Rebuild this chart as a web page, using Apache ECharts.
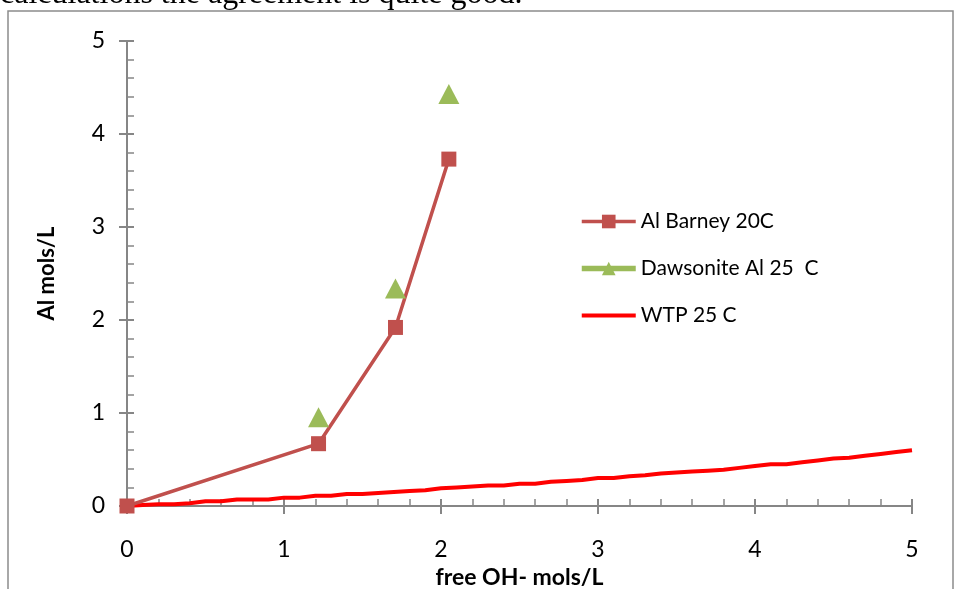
<!DOCTYPE html>
<html><head><meta charset="utf-8">
<script src="https://cdn.jsdelivr.net/npm/echarts@6/dist/echarts.min.js"></script>
<style>html,body{margin:0;padding:0;background:#fff}#c{width:956px;height:589px}</style>
</head><body><div id="c"></div>
<script>
const barneyX = [0, 1.22, 1.71, 2.05];
const barneyY = [0, 0.67, 1.92, 3.73];
const dawsX = [1.22, 1.71, 2.05];
const dawsY = [0.955, 2.34, 4.43];
const wtpX = [0,0.1,0.2,0.3,0.4,0.5,0.6,0.7,0.8,0.9,1.0,1.1,1.2,1.3,1.4,1.5,1.6,1.7,1.8,1.9,2.0,2.1,2.2,2.3,2.4,2.5,2.6,2.7,2.8,2.9,3.0,3.1,3.2,3.3,3.4,3.5,3.6,3.7,3.8,3.9,4.0,4.1,4.2,4.3,4.4,4.5,4.6,4.7,4.8,4.9,5.0];
const wtpY = [0,0.01,0.02,0.02,0.03,0.05,0.05,0.07,0.07,0.07,0.09,0.09,0.11,0.11,0.13,0.13,0.14,0.15,0.16,0.17,0.19,0.20,0.21,0.22,0.22,0.24,0.24,0.26,0.27,0.28,0.30,0.30,0.32,0.33,0.35,0.36,0.37,0.38,0.39,0.41,0.43,0.45,0.45,0.47,0.49,0.51,0.52,0.54,0.56,0.58,0.60];
const seriesNames = ['Al Barney 20C', 'Dawsonite Al 25  C', 'WTP 25 C'];
const xTitle = 'free OH- mols/L';
const yTitle = 'Al mols/L';
const topText = 'calculations the agreement is quite good.';

const zip = (xs, ys) => xs.map((x, i) => [x, ys[i]]);
const axisColor = '#868686';
const font = 'Lato';

const chart = echarts.init(document.getElementById('c'));
const baseAxis = {
  type: 'value', min: 0, max: 5, interval: 1,
  splitLine: {show: false}
};
chart.setOption({
  animation: false,
  grid: {left: 127, right: 44, top: 41, bottom: 83, outerBoundsMode: 'none', containLabel: false},
  graphic: [
    {type: 'rect', shape: {x: 8, y: 11, width: 945, height: 620}, style: {fill: 'none', stroke: '#8c8c8c', lineWidth: 1.5}, silent: true},
    {type: 'text', x: 0, y: -5, style: {text: topText, font: '32px "Liberation Serif"', fill: '#000', verticalAlign: 'middle'}}
  ],
  xAxis: [
    Object.assign({}, baseAxis, {
      name: xTitle, nameLocation: 'middle', nameGap: 60,
      nameTextStyle: {fontFamily: font, fontWeight: 'bold', fontSize: 23, color: '#000'},
      axisLine: {show: true, lineStyle: {color: axisColor, width: 2}},
      axisTick: {show: true, inside: true, length: 7, lineStyle: {color: axisColor, width: 2}},
      minorTick: {show: true, splitNumber: 5, length: 7, lineStyle: {color: axisColor, width: 1.5}},
      axisLabel: {fontFamily: font, fontSize: 23, color: '#000', margin: 32}
    }),
    Object.assign({}, baseAxis, {
      position: 'bottom',
      axisLine: {show: false},
      axisTick: {show: true, inside: false, length: 8, lineStyle: {color: axisColor, width: 2}},
      axisLabel: {show: false}
    })
  ],
  yAxis: [
    Object.assign({}, baseAxis, {
      name: yTitle, nameLocation: 'middle', nameGap: 69, nameRotate: 90,
      nameTextStyle: {fontFamily: font, fontWeight: 'bold', fontSize: 22, color: '#000'},
      axisLine: {show: true, lineStyle: {color: axisColor, width: 2}},
      axisTick: {show: true, inside: true, length: 7, lineStyle: {color: axisColor, width: 2}},
      minorTick: {show: true, splitNumber: 5, length: 7, lineStyle: {color: axisColor, width: 1.5}},
      axisLabel: {fontFamily: font, fontSize: 23, color: '#000', margin: 22}
    }),
    Object.assign({}, baseAxis, {
      position: 'left',
      axisLine: {show: false},
      axisTick: {show: true, inside: false, length: 8, lineStyle: {color: axisColor, width: 2}},
      axisLabel: {show: false}
    })
  ],
  legend: {
    orient: 'vertical', left: 579, top: 211, padding: 0,
    itemWidth: 54, itemHeight: 17, itemGap: 26,
    textStyle: {fontFamily: font, fontSize: 21, color: '#000'},
    data: [
      {name: seriesNames[0], lineStyle: {width: 3.5, opacity: 1, color: '#C0504D'}},
      {name: seriesNames[1], lineStyle: {width: 5.5, opacity: 1, color: '#9BBB59'}},
      {name: seriesNames[2], lineStyle: {width: 4, opacity: 1, color: '#FF0000'}, itemStyle: {opacity: 0}}
    ]
  },
  series: [
    {
      name: seriesNames[2], type: 'line', data: zip(wtpX, wtpY),
      symbol: 'none',
      lineStyle: {color: '#FF0000', width: 4}, itemStyle: {color: '#FF0000'}
    },
    {
      name: seriesNames[0], type: 'line', data: zip(barneyX, barneyY),
      symbol: 'rect', symbolSize: 15,
      lineStyle: {color: '#C0504D', width: 3.5}, itemStyle: {color: '#C0504D'}
    },
    {
      name: seriesNames[1], type: 'line', data: zip(dawsX, dawsY),
      symbol: 'triangle', symbolSize: [21, 20],
      lineStyle: {color: '#9BBB59', width: 0, opacity: 0}, itemStyle: {color: '#9BBB59'}
    }
  ]
});
</script></body></html>
